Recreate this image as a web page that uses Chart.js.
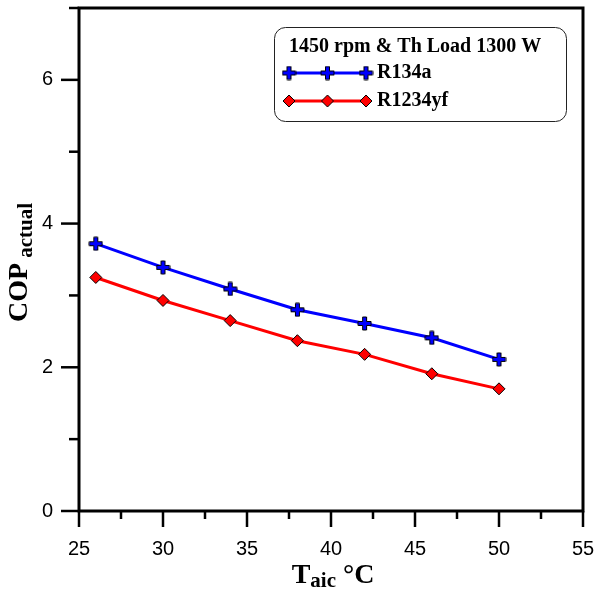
<!DOCTYPE html>
<html>
<head>
<meta charset="utf-8">
<script src="https://cdn.jsdelivr.net/npm/chart.js@4.4.0/dist/chart.umd.min.js"></script>
<style>
html, body { margin: 0; padding: 0; background: #fff; }
</style>
</head>
<body>
<canvas id="copChart" width="597" height="592"></canvas>
<script>
// datos
const taic = [26, 30, 34, 38, 42, 46, 50];
const copR134a = [3.72, 3.39, 3.09, 2.80, 2.61, 2.41, 2.11];
const copR1234yf = [3.25, 2.93, 2.65, 2.37, 2.18, 1.91, 1.70];
const seriesNames = ['R134a', 'R1234yf'];
const legendTitle = '1450 rpm & Th Load 1300 W';
const xTicks = [25, 30, 35, 40, 45, 50, 55];
const yTicks = [0, 2, 4, 6];
const yMax = 7;

const sansFont = "'Liberation Sans', Arial, sans-serif";
const serifFont = "'Liberation Serif', 'Times New Roman', serif";

// marcador "+" azul con borde negro
function makePlus(size, arm, fill) {
    const c = document.createElement('canvas');
    c.width = size;
    c.height = size;
    const g = c.getContext('2d');
    const m = size / 2, a = arm / 2, r = size / 2 - 1;
    g.beginPath();
    g.moveTo(m - a, m - r); g.lineTo(m + a, m - r); g.lineTo(m + a, m - a);
    g.lineTo(m + r, m - a); g.lineTo(m + r, m + a); g.lineTo(m + a, m + a);
    g.lineTo(m + a, m + r); g.lineTo(m - a, m + r); g.lineTo(m - a, m + a);
    g.lineTo(m - r, m + a); g.lineTo(m - r, m - a); g.lineTo(m - a, m - a);
    g.closePath();
    g.fillStyle = fill;
    g.fill();
    g.lineWidth = 1;
    g.strokeStyle = '#000';
    g.stroke();
    return c;
}
const plusMarker = makePlus(15, 4, '#0000ff');

function drawRich(ctx, parts, x, y) {
    let total = 0;
    parts.forEach(p => {
        ctx.font = 'bold ' + p.size + 'px ' + serifFont;
        p.w = ctx.measureText(p.text).width;
        total += p.w;
    });
    let cx = x - total / 2;
    parts.forEach(p => {
        ctx.font = 'bold ' + p.size + 'px ' + serifFont;
        ctx.fillText(p.text, cx, y + p.dy);
        cx += p.w;
    });
}

function markerOpts(ds) {
    return {
        pointStyle: ds.pointStyle,
        radius: ds.pointRadius,
        rotation: 0,
        borderWidth: ds.pointBorderWidth
    };
}

const originPlugin = {
    id: 'originFrame',
    afterDraw(chart) {
        const ctx = chart.ctx, a = chart.chartArea;
        const xs = chart.scales.x, ys = chart.scales.y;
        ctx.save();
        ctx.strokeStyle = '#000';
        ctx.lineWidth = 2.5;

        // marcas de los ejes (mayores y menores)
        for (let i = 0; i < xTicks.length; i++) {
            let px = xs.getPixelForValue(xTicks[i]);
            ctx.beginPath(); ctx.moveTo(px, a.bottom); ctx.lineTo(px, a.bottom + 16); ctx.stroke();
            if (i < xTicks.length - 1) {
                px = xs.getPixelForValue((xTicks[i] + xTicks[i + 1]) / 2);
                ctx.beginPath(); ctx.moveTo(px, a.bottom); ctx.lineTo(px, a.bottom + 8); ctx.stroke();
            }
        }
        for (let i = 0; i < yTicks.length; i++) {
            let py = ys.getPixelForValue(yTicks[i]);
            ctx.beginPath(); ctx.moveTo(a.left - 18, py); ctx.lineTo(a.left, py); ctx.stroke();
            py = ys.getPixelForValue(yTicks[i] + 1);
            ctx.beginPath(); ctx.moveTo(a.left - 10, py); ctx.lineTo(a.left, py); ctx.stroke();
        }

        // marco
        ctx.lineWidth = 3;
        ctx.strokeRect(a.left, a.top, a.right - a.left, a.bottom - a.top);

        // titulos de los ejes
        ctx.fillStyle = '#000';
        ctx.textAlign = 'left';
        ctx.textBaseline = 'alphabetic';
        drawRich(ctx, [
            { text: 'T', size: 28, dy: 0 },
            { text: 'aic', size: 21, dy: 4 },
            { text: ' \u00B0C', size: 28, dy: 0 }
        ], (a.left + a.right) / 2 + 2, 583);

        ctx.save();
        ctx.translate(27, (a.top + a.bottom) / 2 + 3);
        ctx.rotate(-Math.PI / 2);
        drawRich(ctx, [
            { text: 'COP', size: 28, dy: 0 },
            { text: ' actual', size: 21, dy: 5 }
        ], 0, 0);
        ctx.restore();

        // leyenda
        ctx.lineWidth = 1;
        ctx.strokeStyle = '#222';
        ctx.beginPath();
        ctx.roundRect(274.5, 27.5, 292, 94, 11);
        ctx.fillStyle = '#fff';
        ctx.fill();
        ctx.stroke();

        ctx.fillStyle = '#000';
        ctx.textBaseline = 'middle';
        ctx.font = 'bold 20px ' + serifFont;
        ctx.fillText(legendTitle, 289, 47);

        const rows = [73, 101];
        chart.data.datasets.forEach((ds, i) => {
            const y = rows[i];
            ctx.strokeStyle = ds.borderColor;
            ctx.lineWidth = ds.borderWidth;
            ctx.beginPath(); ctx.moveTo(289, y); ctx.lineTo(366, y); ctx.stroke();
            ctx.fillStyle = ds.pointBackgroundColor;
            ctx.strokeStyle = ds.pointBorderColor;
            ctx.lineWidth = ds.pointBorderWidth;
            [289, 327.5, 366].forEach(mx => Chart.helpers.drawPoint(ctx, markerOpts(ds), mx, y));
            ctx.fillStyle = '#000';
            ctx.font = 'bold 20px ' + serifFont;
            ctx.fillText(ds.label, 377, y);
        });
        ctx.restore();
    }
};

const ctx = document.getElementById('copChart').getContext('2d');
const myChart = new Chart(ctx, {
    type: 'line',
    data: {
        datasets: [{
            label: seriesNames[0],
            data: taic.map((t, i) => ({ x: t, y: copR134a[i] })),
            borderColor: '#0000ff',
            borderWidth: 3,
            pointStyle: plusMarker,
            pointRadius: 7,
            pointBackgroundColor: '#0000ff',
            pointBorderColor: '#000',
            pointBorderWidth: 1,
            tension: 0
        }, {
            label: seriesNames[1],
            data: taic.map((t, i) => ({ x: t, y: copR1234yf[i] })),
            borderColor: '#ff0000',
            borderWidth: 3,
            pointStyle: 'rectRot',
            pointRadius: 6,
            pointBackgroundColor: '#ff0000',
            pointBorderColor: '#000',
            pointBorderWidth: 1,
            tension: 0
        }]
    },
    options: {
        responsive: false,
        animation: false,
        devicePixelRatio: 1,
        layout: { padding: { top: 7, right: 14, left: 0, bottom: 0 } },
        plugins: {
            legend: { display: false },
            tooltip: { enabled: false },
            title: { display: false }
        },
        scales: {
            x: {
                type: 'linear',
                min: xTicks[0],
                max: xTicks[xTicks.length - 1],
                afterFit: s => { s.height = 81; s.paddingLeft = 0; s.paddingRight = 0; },
                afterBuildTicks: s => { s.ticks = xTicks.map(v => ({ value: v })); },
                grid: { display: false, drawTicks: false },
                border: { display: false },
                ticks: {
                    color: '#000',
                    padding: 26,
                    maxRotation: 0,
                    font: { family: sansFont, size: 20 }
                }
            },
            y: {
                min: 0,
                max: yMax,
                afterFit: s => { s.width = 79; s.paddingTop = 0; s.paddingBottom = 0; },
                afterBuildTicks: s => { s.ticks = yTicks.map(v => ({ value: v })); },
                grid: { display: false, drawTicks: false },
                border: { display: false },
                ticks: {
                    color: '#000',
                    padding: 26,
                    font: { family: sansFont, size: 20 }
                }
            }
        }
    },
    plugins: [originPlugin]
});
</script>
</body>
</html>
